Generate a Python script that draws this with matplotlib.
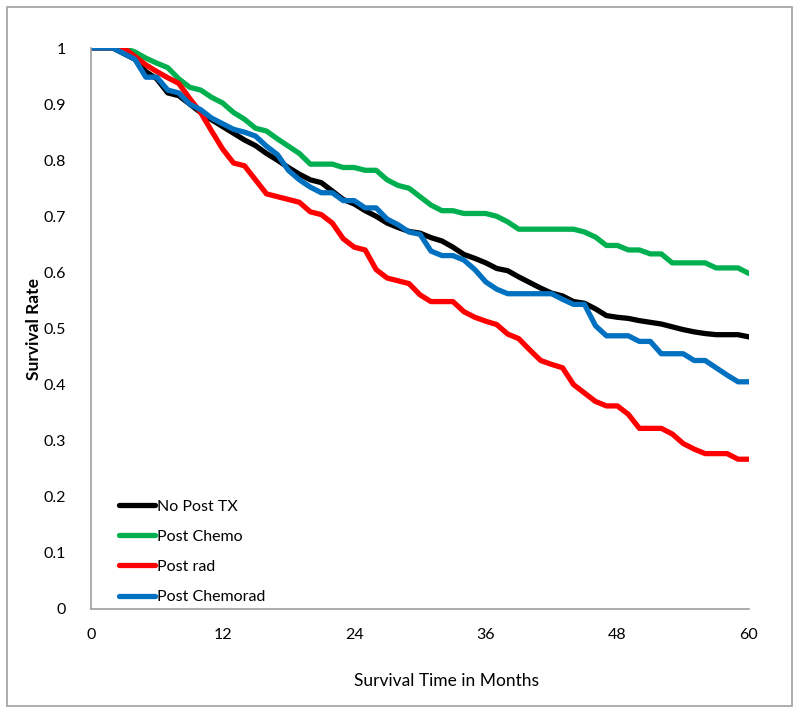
#!/usr/bin/env python3
import matplotlib
matplotlib.use("Agg")
import matplotlib.pyplot as plt
from matplotlib.patches import Rectangle

plt.rcParams['font.family'] = ['Lato', 'DejaVu Sans']

# months 0..60
months = list(range(61))

no_post_tx = [1.0, 1.0, 1.0, 0.99, 0.98, 0.958, 0.945, 0.92, 0.915, 0.90,
              0.885, 0.872, 0.86, 0.848, 0.836, 0.826, 0.812, 0.80, 0.787, 0.775,
              0.765, 0.76, 0.745, 0.73, 0.722, 0.71, 0.70, 0.688, 0.68, 0.673,
              0.67, 0.662, 0.656, 0.645, 0.632, 0.625, 0.617, 0.607, 0.603, 0.592,
              0.582, 0.572, 0.563, 0.558, 0.548, 0.545, 0.535, 0.523, 0.52, 0.518,
              0.514, 0.511, 0.508, 0.503, 0.498, 0.494, 0.491, 0.489, 0.489, 0.489,
              0.485]

post_chemo = [1.0, 1.0, 1.0, 1.0, 0.993, 0.982, 0.973, 0.965, 0.945, 0.93,
              0.925, 0.912, 0.902, 0.885, 0.873, 0.857, 0.852, 0.838, 0.825, 0.812,
              0.793, 0.793, 0.793, 0.787, 0.787, 0.782, 0.782, 0.765, 0.755, 0.75,
              0.735, 0.72, 0.71, 0.71, 0.705, 0.705, 0.705, 0.70, 0.69, 0.677,
              0.677, 0.677, 0.677, 0.677, 0.677, 0.672, 0.663, 0.648, 0.648, 0.64,
              0.64, 0.633, 0.633, 0.617, 0.617, 0.617, 0.617, 0.608, 0.608, 0.608,
              0.598]

post_rad = [1.0, 1.0, 1.0, 1.0, 0.985, 0.97, 0.958, 0.947, 0.937, 0.91,
            0.885, 0.852, 0.82, 0.795, 0.79, 0.765, 0.74, 0.735, 0.73, 0.725,
            0.708, 0.703, 0.688, 0.66, 0.645, 0.64, 0.605, 0.59, 0.585, 0.58,
            0.56, 0.548, 0.548, 0.548, 0.53, 0.52, 0.513, 0.507, 0.49, 0.482,
            0.462, 0.443, 0.436, 0.43, 0.40, 0.385, 0.37, 0.362, 0.362, 0.347,
            0.322, 0.322, 0.322, 0.312, 0.295, 0.285, 0.277, 0.277, 0.277, 0.267,
            0.267]

post_chemorad = [1.0, 1.0, 1.0, 0.99, 0.98, 0.948, 0.948, 0.925, 0.92, 0.90,
                 0.89, 0.875, 0.865, 0.855, 0.85, 0.843, 0.825, 0.81, 0.782, 0.765,
                 0.752, 0.742, 0.742, 0.728, 0.728, 0.715, 0.715, 0.695, 0.685, 0.672,
                 0.668, 0.638, 0.63, 0.63, 0.622, 0.605, 0.583, 0.57, 0.562, 0.562,
                 0.562, 0.562, 0.562, 0.552, 0.543, 0.543, 0.505, 0.487, 0.487, 0.487,
                 0.477, 0.477, 0.455, 0.455, 0.455, 0.443, 0.443, 0.43, 0.417, 0.405,
                 0.405]

series = [("No Post TX", no_post_tx, "#000000"),
          ("Post Chemo", post_chemo, "#00B050"),
          ("Post rad", post_rad, "#FF0000"),
          ("Post Chemorad", post_chemorad, "#0070C0")]

x_ticks = [0, 12, 24, 36, 48, 60]
y_ticks = [0, 0.1, 0.2, 0.3, 0.4, 0.5, 0.6, 0.7, 0.8, 0.9, 1]
y_labels = ["0", "0.1", "0.2", "0.3", "0.4", "0.5", "0.6", "0.7", "0.8", "0.9", "1"]

fig = plt.figure(figsize=(8, 7.13), dpi=100)
ax = fig.add_axes([91 / 800, 1 - 609 / 713, (749 - 91) / 800, (609 - 48) / 713])

for name, vals, color in series:
    ax.plot(months, vals, color=color, lw=3.8, label=name,
            solid_joinstyle='round', solid_capstyle='round')

ax.set_xlim(0, 60)
ax.set_ylim(0, 1)
ax.set_xticks(x_ticks)
ax.set_yticks(y_ticks)
ax.set_yticklabels(y_labels)
ax.tick_params(length=0, labelsize=11.5)
ax.tick_params(axis='x', pad=14)
ax.tick_params(axis='y', pad=18)

for side in ['top', 'right']:
    ax.spines[side].set_visible(False)
for side in ['left', 'bottom']:
    ax.spines[side].set_color('#a0a0a0')
    ax.spines[side].set_linewidth(1.2)

ax.set_ylabel("Survival Rate", fontsize=12.5, fontweight='bold')
ax.yaxis.set_label_coords(-0.074, 0.5)
ax.set_xlabel("Survival Time in Months", fontsize=12.5)
ax.xaxis.set_label_coords(0.54, -0.114)

leg = ax.legend(loc='lower left', bbox_to_anchor=(0.02, -0.017), frameon=False,
                fontsize=11.5, handlelength=2.3, handletextpad=0.1,
                labelspacing=1.0)

# outer chart border
fig.patches.append(Rectangle((7 / 800, 7 / 713), 785 / 800, 699 / 713,
                             transform=fig.transFigure, fill=False,
                             edgecolor='#a0a0a0', lw=1.2))

fig.savefig("out.png", dpi=100)
